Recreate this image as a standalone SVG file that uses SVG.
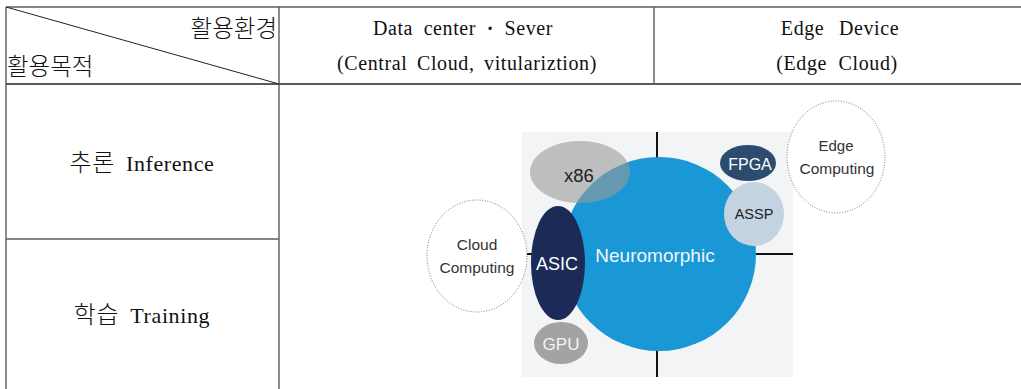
<svg xmlns="http://www.w3.org/2000/svg" width="1021" height="389" viewBox="0 0 1021 389">
  <defs>
    <style>
      .tl { stroke: #5a5a5a; stroke-width: 1.4; fill: none; }
      .tt { font-family: "Liberation Serif", "Times New Roman", "Noto Sans CJK KR", serif; fill: #111; letter-spacing: 0.6px; }
      .hd { font-size: 20px; text-anchor: middle; }
      .rw { font-size: 22px; text-anchor: middle; }
      .ko { font-family: "Noto Sans CJK KR", sans-serif; font-weight: 300; }
      .kr { font-family: "Noto Sans CJK KR", sans-serif; font-size: 23.5px; fill: #111; font-weight: 300; }
      .gl { font-family: "Liberation Sans", Arial, sans-serif; text-anchor: middle; }
      .axis { stroke: #111; stroke-width: 2; fill: none; }
      .dot { fill: #fff; stroke: #777; stroke-width: 1; stroke-dasharray: 1 1.6; }
    </style>
  </defs>
  <rect x="0" y="0" width="1021" height="389" fill="#ffffff"/>

  <g id="table">
    <line class="tl" x1="6" y1="7" x2="1021" y2="7"/>
    <line class="tl" x1="6" y1="84" x2="1021" y2="84" style="stroke-width:2"/>
    <line class="tl" x1="6" y1="7" x2="6" y2="389"/>
    <line class="tl" x1="279" y1="7" x2="279" y2="389"/>
    <line class="tl" x1="654" y1="7" x2="654" y2="84"/>
    <line class="tl" x1="6" y1="239" x2="279" y2="239"/>
    <line x1="6" y1="7" x2="279" y2="84" stroke="#222" stroke-width="1"/>
    <text class="kr" x="277" y="37" text-anchor="end">활용환경</text>
    <text class="kr" x="7" y="75">활용목적</text>
    <text class="tt hd" x="463" y="35" word-spacing="5">Data center <tspan font-weight="bold">·</tspan> Sever</text>
    <text class="tt hd" x="467" y="70" word-spacing="4">(Central Cloud, vitulariztion)</text>
    <text class="tt hd" x="840" y="35" word-spacing="9">Edge Device</text>
    <text class="tt hd" x="837" y="70" word-spacing="6">(Edge Cloud)</text>
    <text class="tt rw" x="142" y="171" word-spacing="5"><tspan class="ko" font-size="24">추론</tspan> Inference</text>
    <text class="tt rw" x="142" y="323" word-spacing="5"><tspan class="ko" font-size="24">학습</tspan> Training</text>
  </g>

  <g id="chart-background">
    <rect x="522" y="132" width="271" height="245" fill="#f3f4f5"/>
  </g>

  <g id="connectors">
    <line class="axis" x1="657" y1="132" x2="657" y2="377"/>
    <line class="axis" x1="522" y1="254" x2="793" y2="254"/>
  </g>

  <g id="node-cloud-computing">
    <ellipse class="dot" cx="477" cy="256" rx="50" ry="56"/>
    <text class="gl" x="477" y="250" font-size="15.5" fill="#333">Cloud</text>
    <text class="gl" x="477" y="273" font-size="15.5" fill="#333">Computing</text>
  </g>

  <g id="node-edge-computing">
    <ellipse class="dot" cx="836" cy="157" rx="49" ry="56"/>
    <text class="gl" x="836" y="151" font-size="15" fill="#333">Edge</text>
    <text class="gl" x="837" y="174" font-size="15.5" fill="#333">Computing</text>
  </g>

  <g id="node-neuromorphic">
    <circle cx="659" cy="254" r="97" fill="#1a98d5"/>
    <text class="gl" x="655" y="262" font-size="19" fill="#eef7fc">Neuromorphic</text>
  </g>

  <g id="node-x86">
    <ellipse cx="580" cy="172" rx="50" ry="31" fill="#999999" fill-opacity="0.6"/>
    <text class="gl" x="579" y="182" font-size="18.5" fill="#222">x86</text>
  </g>

  <g id="node-asic">
    <ellipse cx="558" cy="263" rx="27" ry="57" fill="#1c2a58"/>
    <text class="gl" x="557" y="270" font-size="18" fill="#ffffff">ASIC</text>
  </g>

  <g id="node-gpu">
    <ellipse cx="561" cy="343" rx="27" ry="21" fill="#a3a3a3"/>
    <text class="gl" x="561" y="350" font-size="17" fill="#f4f4f4">GPU</text>
  </g>

  <g id="node-fpga">
    <ellipse cx="748" cy="163" rx="28" ry="18" fill="#2b4c6f"/>
    <text class="gl" x="750" y="170" font-size="16" fill="#ffffff">FPGA</text>
  </g>

  <g id="node-assp">
    <ellipse cx="754" cy="214" rx="30" ry="32" fill="#c3d3e2"/>
    <text class="gl" x="754" y="219" font-size="14.5" fill="#222">ASSP</text>
  </g>
</svg>
